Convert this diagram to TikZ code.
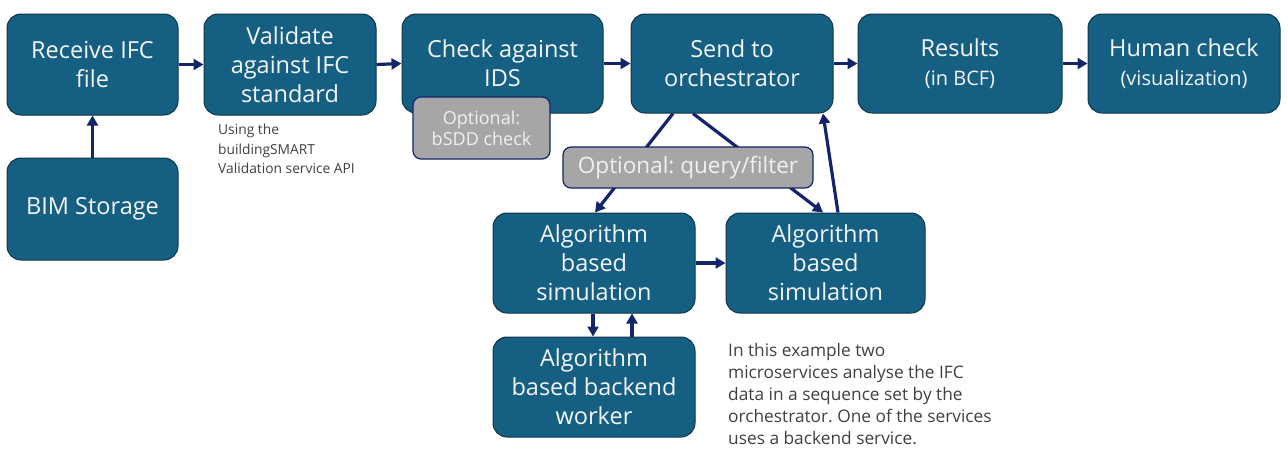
\documentclass[tikz,border=0pt]{standalone}
\usepackage{fontspec}
\setmainfont{Open Sans}
\usetikzlibrary{arrows.meta,calc}
\definecolor{boxfill}{HTML}{156082}
\definecolor{boxline}{HTML}{0E3448}
\definecolor{arrowc}{HTML}{13246B}
\definecolor{optfill}{HTML}{A6A6A6}
\definecolor{notec}{HTML}{404040}
\pgfdeclarelayer{background}
\pgfsetlayers{background,main}
\frenchspacing
\tikzset{
  stage/.style={draw=boxline, line width=1pt, fill=boxfill, rounded corners=14pt,
    text=white!96!black, align=center, inner sep=0pt, font=\fontsize{23.5}{29}\selectfont},
  option/.style={draw=arrowc, line width=1.2pt, fill=optfill, rounded corners=8pt,
    text=white!94!black, align=center, inner sep=0pt},
  flow/.style={draw=arrowc, line width=3.2pt, -{Triangle[length=10pt,width=11pt]}},
  note/.style={text=notec, align=left, anchor=north west, inner sep=0pt},
}
\begin{document}
\begin{tikzpicture}[x=1pt, y=-1pt]
\useasboundingbox (0,0) rectangle (1288,448);

% main pipeline
\node[stage, minimum width=171pt, minimum height=101pt] (recv) at (92.5,64.5) {Receive IFC\\file};
\node[stage, minimum width=171pt, minimum height=102pt] (bim) at (92.5,209) {BIM Storage};
\node[stage, minimum width=172pt, minimum height=101pt] (valid) at (290,64.5) {Validate\\against IFC\\standard};
\node[stage, minimum width=201pt, minimum height=99pt] (ids) at (502.5,63.5) {Check against\\IDS};
\node[stage, minimum width=202pt, minimum height=99pt] (orch) at (732,63.5) {Send to\\orchestrator};
\node[stage, minimum width=204pt, minimum height=99pt] (res) at (960,63.5)
  {Results\\{\fontsize{20}{26}\selectfont (in BCF)}};
\node[stage, minimum width=192pt, minimum height=99pt] (human) at (1184,63.5)
  {Human check\\{\fontsize{20}{26}\selectfont (visualization)}};

% optional steps
\node[option, minimum width=137pt, minimum height=62pt, font=\fontsize{18}{21}\selectfont]
  (bsdd) at (481.5,128) {Optional:\\bSDD check};
\node[option, minimum width=250pt, minimum height=41pt, font=\fontsize{22.5}{26}\selectfont]
  (query) at (688,167.5) {Optional: query/filter};

% microservices
\node[stage, minimum width=202pt, minimum height=100pt] (alg1) at (594,263) {Algorithm\\based\\simulation};
\node[stage, minimum width=199pt, minimum height=100pt] (alg2) at (825.5,263) {Algorithm\\based\\simulation};
\node[stage, minimum width=202pt, minimum height=100pt] (worker) at (594,387) {Algorithm\\based backend\\worker};

% notes
\node[note, font=\fontsize{13.8}{19.5}\selectfont] (apinote) at (218,124)
  {Using the\\buildingSMART\\Validation service API};
\node[note, font=\fontsize{17.3}{22}\selectfont] (seqnote) at (728,343)
  {In this example two\\microservices analyse the IFC\\data in a sequence set by the\\orchestrator. One of the services\\uses a backend service.};

% connectors
\draw[flow] (bim.north) -- (recv.south);
\draw[flow] (recv.east) -- (valid.west);
\draw[flow] (valid.east) -- (ids.west);
\draw[flow] (ids.east) -- (orch.west);
\draw[flow] (orch.east) -- (res.west);
\draw[flow] (res.east) -- (human.west);
\begin{pgfonlayer}{background}
  \draw[flow] ([xshift=-59pt]orch.south) -- ([xshift=1pt]alg1.north);
  \draw[flow] ([xshift=-39pt]orch.south) -- ([xshift=-2.5pt]alg2.north);
\end{pgfonlayer}
\draw[flow] ([xshift=12.5pt]alg2.north) -- ([xshift=91pt]orch.south);
\draw[flow] (alg1.east) -- (alg2.west);
\draw[flow] ([xshift=-1pt]alg1.south) -- ([xshift=-1pt]worker.north);
\draw[flow] ([xshift=38pt]worker.north) -- ([xshift=38pt]alg1.south);
\end{tikzpicture}
\end{document}
